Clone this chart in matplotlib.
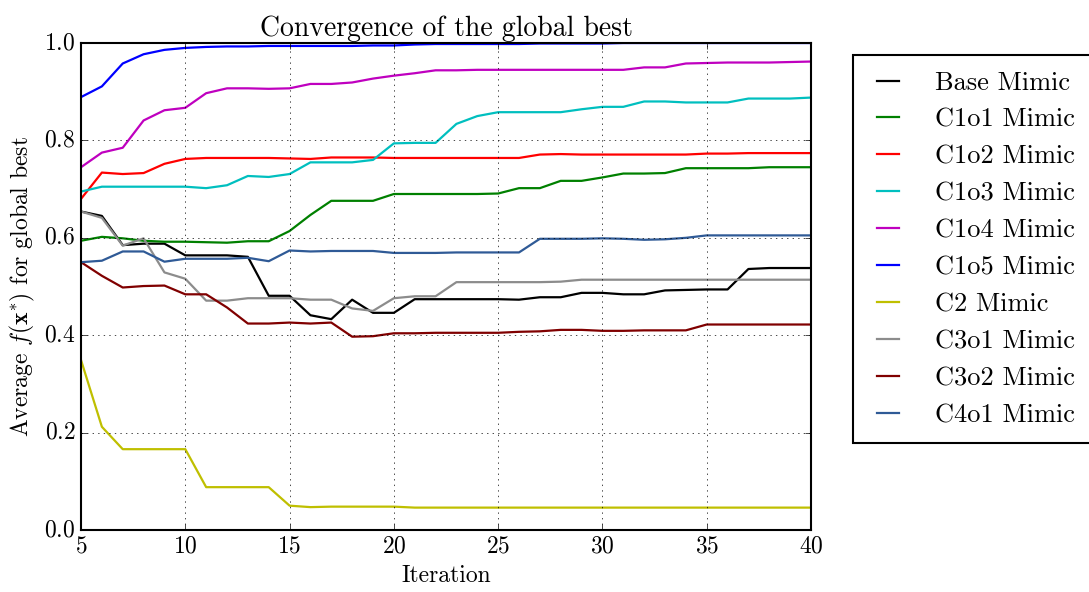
import numpy as np
import matplotlib
matplotlib.use("Agg")
import matplotlib.pyplot as plt

plt.style.use("classic")
plt.rcParams["font.family"] = "serif"
plt.rcParams["font.serif"] = ["cmr10"]
plt.rcParams["mathtext.fontset"] = "cm"
plt.rcParams["axes.unicode_minus"] = False
plt.rcParams["axes.formatter.use_mathtext"] = True

iterations = np.arange(5, 41)

base_mimic = [0.654, 0.645, 0.585, 0.588, 0.588, 0.564, 0.564, 0.564, 0.561, 0.481,
              0.481, 0.441, 0.433, 0.473, 0.446, 0.446, 0.474, 0.474, 0.474, 0.474,
              0.474, 0.473, 0.478, 0.478, 0.487, 0.487, 0.484, 0.484, 0.492, 0.493,
              0.494, 0.494, 0.536, 0.538, 0.538, 0.538]
c1o1_mimic = [0.594, 0.602, 0.599, 0.594, 0.592, 0.592, 0.591, 0.590, 0.593, 0.593,
              0.614, 0.647, 0.676, 0.676, 0.676, 0.690, 0.690, 0.690, 0.690, 0.690,
              0.691, 0.702, 0.702, 0.717, 0.717, 0.724, 0.732, 0.732, 0.733, 0.743,
              0.743, 0.743, 0.743, 0.745, 0.745, 0.745]
c1o2_mimic = [0.680, 0.734, 0.731, 0.733, 0.752, 0.762, 0.764, 0.764, 0.764, 0.764,
              0.763, 0.762, 0.765, 0.765, 0.765, 0.764, 0.764, 0.764, 0.764, 0.764,
              0.764, 0.764, 0.771, 0.772, 0.771, 0.771, 0.771, 0.771, 0.771, 0.771,
              0.773, 0.773, 0.774, 0.774, 0.774, 0.774]
c1o3_mimic = [0.695, 0.705, 0.705, 0.705, 0.705, 0.705, 0.702, 0.708, 0.727, 0.725,
              0.731, 0.755, 0.755, 0.755, 0.760, 0.794, 0.795, 0.795, 0.834, 0.850,
              0.858, 0.858, 0.858, 0.858, 0.864, 0.869, 0.869, 0.880, 0.880, 0.878,
              0.878, 0.878, 0.886, 0.886, 0.886, 0.888]
c1o4_mimic = [0.745, 0.775, 0.785, 0.841, 0.862, 0.867, 0.897, 0.907, 0.907, 0.906,
              0.907, 0.916, 0.916, 0.919, 0.927, 0.933, 0.938, 0.944, 0.944, 0.945,
              0.945, 0.945, 0.945, 0.945, 0.945, 0.945, 0.945, 0.950, 0.950, 0.958,
              0.959, 0.960, 0.960, 0.960, 0.961, 0.962]
c1o5_mimic = [0.889, 0.911, 0.958, 0.977, 0.986, 0.990, 0.992, 0.993, 0.993, 0.994,
              0.994, 0.994, 0.994, 0.994, 0.995, 0.995, 0.997, 0.998, 0.998, 0.998,
              0.998, 0.998, 0.999, 0.999, 0.999, 0.999, 1.000, 1.000, 1.000, 1.000,
              1.000, 1.000, 1.000, 1.000, 1.000, 1.000]
c2_mimic = [0.349, 0.212, 0.166, 0.166, 0.166, 0.166, 0.088, 0.088, 0.088, 0.088,
            0.050, 0.047, 0.048, 0.048, 0.048, 0.048, 0.046, 0.046, 0.046, 0.046,
            0.046, 0.046, 0.046, 0.046, 0.046, 0.046, 0.046, 0.046, 0.046, 0.046,
            0.046, 0.046, 0.046, 0.046, 0.046, 0.046]
c3o1_mimic = [0.654, 0.641, 0.584, 0.599, 0.529, 0.516, 0.471, 0.471, 0.476, 0.476,
              0.476, 0.473, 0.473, 0.455, 0.450, 0.476, 0.480, 0.480, 0.509, 0.509,
              0.509, 0.509, 0.509, 0.510, 0.514, 0.514, 0.514, 0.514, 0.514, 0.514,
              0.514, 0.514, 0.514, 0.514, 0.514, 0.514]
c3o2_mimic = [0.550, 0.522, 0.498, 0.501, 0.502, 0.484, 0.484, 0.457, 0.424, 0.424,
              0.426, 0.424, 0.426, 0.397, 0.398, 0.404, 0.404, 0.405, 0.405, 0.405,
              0.405, 0.407, 0.408, 0.411, 0.411, 0.409, 0.409, 0.410, 0.410, 0.410,
              0.422, 0.422, 0.422, 0.422, 0.422, 0.422]
c4o1_mimic = [0.550, 0.553, 0.572, 0.572, 0.551, 0.557, 0.557, 0.557, 0.559, 0.552,
              0.574, 0.572, 0.573, 0.573, 0.573, 0.569, 0.569, 0.569, 0.570, 0.570,
              0.570, 0.570, 0.598, 0.598, 0.598, 0.599, 0.598, 0.596, 0.597, 0.600,
              0.605, 0.605, 0.605, 0.605, 0.605, 0.605]

series = [
    ("Base Mimic", base_mimic, "k"),
    ("C1o1 Mimic", c1o1_mimic, "g"),
    ("C1o2 Mimic", c1o2_mimic, "r"),
    ("C1o3 Mimic", c1o3_mimic, "c"),
    ("C1o4 Mimic", c1o4_mimic, "m"),
    ("C1o5 Mimic", c1o5_mimic, "b"),
    ("C2 Mimic", c2_mimic, "y"),
    ("C3o1 Mimic", c3o1_mimic, "#8c8c8c"),
    ("C3o2 Mimic", c3o2_mimic, "#800000"),
    ("C4o1 Mimic", c4o1_mimic, "#2f5a96"),
]

fig = plt.figure(figsize=(10.89, 5.92), dpi=100, facecolor="white")
ax = fig.add_axes([0.0744, 0.1047, 0.6703, 0.8226])

for label, values, color in series:
    ax.plot(iterations, values, color=color, linewidth=1.6, label=label)

ax.set_xlim(5, 40)
ax.set_ylim(0, 1)
ax.set_xticks(np.arange(5, 41, 5))
ax.set_yticks(np.arange(0, 1.01, 0.2))
ax.grid(True)
for spine in ax.spines.values():
    spine.set_linewidth(1.5)
ax.tick_params(labelsize=17)

ax.set_title("Convergence of the global best", fontsize=20)
ax.set_xlabel("Iteration", fontsize=17)
ax.set_ylabel(r"Average $f(\mathbf{x}^{*})$ for global best", fontsize=17)

leg = ax.legend(loc="upper left", bbox_to_anchor=(1.058, 0.975), borderaxespad=0,
                fontsize=19, frameon=True, fancybox=False, labelspacing=0.5,
                handlelength=1.45, handletextpad=1.05, borderpad=0.6)
leg.get_frame().set_linewidth(1.5)

fig.savefig("out.png", dpi=100, facecolor="white")
